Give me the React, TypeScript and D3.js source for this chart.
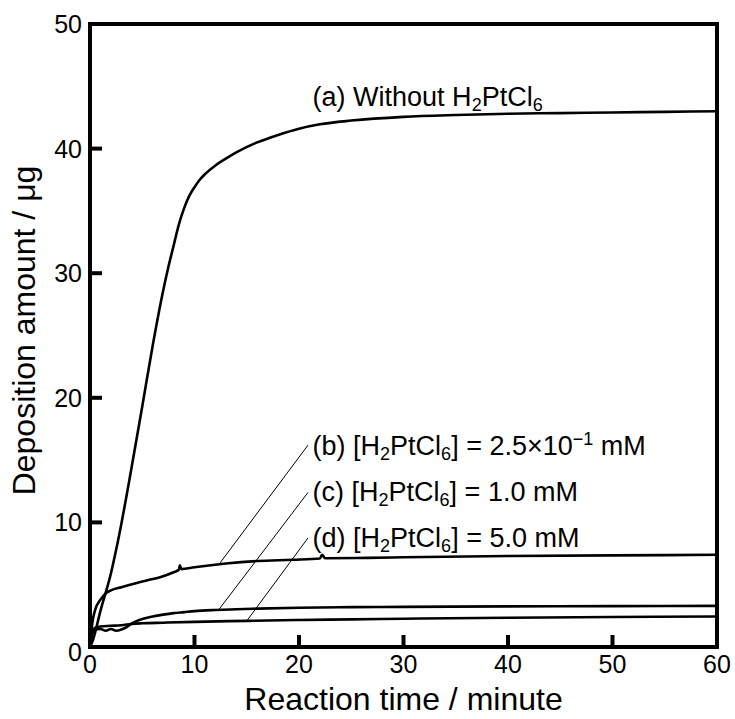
import React from "react";
import * as d3 from "d3";

// ---- data ----
const timeA = [0, 0.3, 1, 2, 2.7, 4, 5, 6, 7, 7.5, 8, 8.5, 9, 9.5, 10, 10.5, 11, 12, 13, 14, 16, 18, 20, 22, 25, 30, 35, 40, 45, 50, 55, 60];
const amountA = [0, 0.6, 2.9, 5.9, 8.6, 14.5, 19.3, 24.2, 28.6, 30.5, 32.2, 33.9, 35.2, 36.2, 36.9, 37.5, 37.95, 38.65, 39.2, 39.7, 40.5, 41.1, 41.6, 41.95, 42.25, 42.55, 42.7, 42.8, 42.85, 42.9, 42.95, 43.0];

const timeB = [0, 0.2, 0.5, 1, 1.5, 2, 3, 4.3, 5.5, 6.7, 8, 8.5, 8.6, 8.75, 10, 13, 16, 19.4, 22, 22.2, 22.5, 26.5, 30, 40, 50, 60];
const amountB = [0, 1.8, 3.0, 3.8, 4.3, 4.55, 4.8, 5.1, 5.35, 5.6, 6.0, 6.2, 6.55, 6.25, 6.4, 6.7, 6.9, 7.0, 7.1, 7.4, 7.12, 7.15, 7.2, 7.3, 7.35, 7.4];

const timeC = [0, 0.2, 0.5, 1, 1.5, 2, 2.5, 3, 3.5, 4, 4.5, 5, 6, 7, 8, 9, 10, 12, 14, 16, 20, 25, 30, 40, 50, 60];
const amountC = [0, 1.0, 1.4, 1.45, 1.3, 1.45, 1.3, 1.4, 1.6, 1.9, 2.1, 2.25, 2.45, 2.6, 2.72, 2.8, 2.88, 2.97, 3.03, 3.08, 3.15, 3.2, 3.22, 3.26, 3.28, 3.3];

const timeD = [0, 0.2, 0.5, 1, 2, 3, 4, 5, 7, 10, 15, 20, 25, 30, 40, 50, 60];
const amountD = [0, 1.2, 1.55, 1.65, 1.7, 1.75, 1.85, 1.9, 1.95, 2.02, 2.1, 2.17, 2.22, 2.27, 2.35, 2.41, 2.45];

const xTicks = [0, 10, 20, 30, 40, 50, 60];
const yTicks = [0, 10, 20, 30, 40, 50];
const xTitle = "Reaction time / minute";
const yTitle = "Deposition amount / μg";

// leader lines: label-end (time, amount) -> curve (time, amount)
const leaderFromT = [20.86, 20.86, 20.86];
const leaderFromY = [16.2, 12.4, 8.75];
const leaderToT = [12.44, 12.3, 15.0];
const leaderToY = [6.74, 2.97, 2.09];

const labelT = 21.3;
const labelBaselines = [15.4, 11.7, 8.05];
const labelConc = ["2.5×10", "1.0", "5.0"];
const labelLetters = ["(b)", "(c)", "(d)"];
const labelATime = 21.3;
const labelAAmount = 43.4;

const W = 735;
const H = 719;
const FONT = "'Liberation Sans', Arial, Helvetica, sans-serif";

export default function App() {
  const x = d3.scaleLinear().domain([0, 60]).range([90, 717]);
  const y = d3.scaleLinear().domain([0, 50]).range([647, 24]);

  const mk = (ts: number[], vs: number[]) =>
    d3
      .line<number>()
      .x((_, i) => x(ts[i]))
      .y((v) => y(v))
      .curve(d3.curveMonotoneX)(vs) as string;

  const series = [
    mk(timeA, amountA),
    mk(timeB, amountB),
    mk(timeC, amountC),
    mk(timeD, amountD),
  ];

  const subSize = 18;
  const mainSize = 27;

  const chemLabel = (i: number) => (
    <text
      key={"lab" + i}
      x={x(labelT)}
      y={y(labelBaselines[i])}
      fontSize={mainSize}
      fontFamily={FONT}
      fill="#000"
    >
      <tspan>{labelLetters[i] + " [H"}</tspan>
      <tspan fontSize={subSize} dy={5}>2</tspan>
      <tspan dy={-5}>PtCl</tspan>
      <tspan fontSize={subSize} dy={5}>6</tspan>
      <tspan dy={-5}>{"] = " + labelConc[i]}</tspan>
      {i === 0 ? (
        <>
          <tspan fontSize={subSize} dy={-10}>{"−1"}</tspan>
          <tspan dy={10}>{" mM"}</tspan>
        </>
      ) : (
        <tspan>{" mM"}</tspan>
      )}
    </text>
  );

  return (
    <svg
      width={W}
      height={H}
      style={{ position: "absolute", left: 0, top: 0, background: "#fff" }}
    >
      <rect x={0} y={0} width={W} height={H} fill="#fff" />
      {series.map((d, i) => (
        <path key={i} d={d} fill="none" stroke="#000" strokeWidth={2.6} strokeLinejoin="round" />
      ))}
      {leaderFromT.map((t, i) => (
        <line
          key={"ld" + i}
          x1={x(t)}
          y1={y(leaderFromY[i])}
          x2={x(leaderToT[i])}
          y2={y(leaderToY[i])}
          stroke="#000"
          strokeWidth={1}
        />
      ))}
      <rect
        x={x(0)}
        y={y(50)}
        width={x(60) - x(0)}
        height={y(0) - y(50)}
        fill="none"
        stroke="#000"
        strokeWidth={4}
      />
      {xTicks.slice(1, -1).map((t) => (
        <line key={"xt" + t} x1={x(t)} x2={x(t)} y1={y(0)} y2={y(0) - 12} stroke="#000" strokeWidth={4} />
      ))}
      {yTicks.slice(1, -1).map((t) => (
        <line key={"yt" + t} x1={x(0)} x2={x(0) + 12} y1={y(t)} y2={y(t)} stroke="#000" strokeWidth={4} />
      ))}
      {xTicks.map((t) => (
        <text key={"xl" + t} x={x(t)} y={673} textAnchor="middle" fontSize={25} fontFamily={FONT} fill="#000">
          {t}
        </text>
      ))}
      {yTicks.map((t) => (
        <text
          key={"yl" + t}
          x={82}
          y={y(t) + 9 + (t === 0 ? 5 : 0)}
          textAnchor="end"
          fontSize={25}
          fontFamily={FONT}
          fill="#000"
        >
          {t}
        </text>
      ))}
      <text x={(x(0) + x(60)) / 2} y={710} textAnchor="middle" fontSize={32} fontFamily={FONT} fill="#000">
        {xTitle}
      </text>
      <text
        transform={`translate(35, ${(y(0) + y(50)) / 2 - 5}) rotate(-90)`}
        textAnchor="middle"
        fontSize={32}
        fontFamily={FONT}
        fill="#000"
      >
        {yTitle}
      </text>
      <text x={x(labelATime)} y={y(labelAAmount)} fontSize={mainSize} fontFamily={FONT} fill="#000">
        <tspan>{"(a) Without H"}</tspan>
        <tspan fontSize={subSize} dy={5}>2</tspan>
        <tspan dy={-5}>PtCl</tspan>
        <tspan fontSize={subSize} dy={5}>6</tspan>
      </text>
      {labelLetters.map((_, i) => chemLabel(i))}
    </svg>
  );
}
